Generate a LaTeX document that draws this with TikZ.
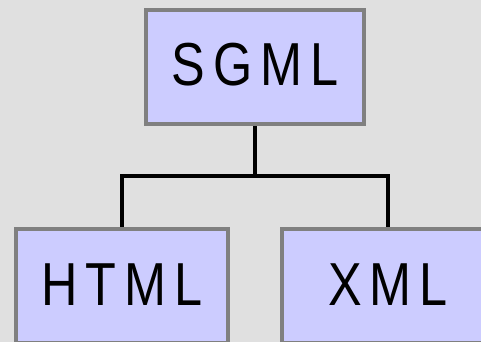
\documentclass[tikz,border=0pt]{standalone}
\usepackage{fontspec}
\setmainfont{Liberation Sans}[FakeStretch=0.83, LetterSpace=13.5]
\definecolor{bgcol}{HTML}{E0E0E0}
\definecolor{boxfill}{HTML}{CCCCFF}
\definecolor{boxborder}{HTML}{808080}
\pgfdeclarelayer{back}
\pgfsetlayers{back,main}
\begin{document}
\begin{tikzpicture}[x=1pt,y=-1pt,
  box/.style={draw=boxborder, line width=4.2pt, fill=boxfill, minimum height=114.6pt,
    inner sep=0pt, font=\fontsize{60.7}{70}\selectfont, text depth=0pt},
  conn/.style={line width=4pt, draw=black}]
\useasboundingbox (0,0) rectangle (481,342);
\begin{pgfonlayer}{back}
\fill[bgcol] (0,0) rectangle (481,342);
\end{pgfonlayer}
\clip (0,0) rectangle (481,342);
\node[box, minimum width=218.7pt, text height=36pt] (sgml) at (255,67) {SGML};
\node[box, minimum width=212pt, text height=38pt] (html) at (122,286) {HTML};
\node[box, minimum width=212pt, text height=38pt] (xml) at (388,286) {XML};
\coordinate (j) at (255,176.3);
\begin{pgfonlayer}{back}
\draw[conn] (sgml.south) -- (j);
\draw[conn] (html.north) |- (j) -| (xml.north);
\end{pgfonlayer}
\end{tikzpicture}
\end{document}
